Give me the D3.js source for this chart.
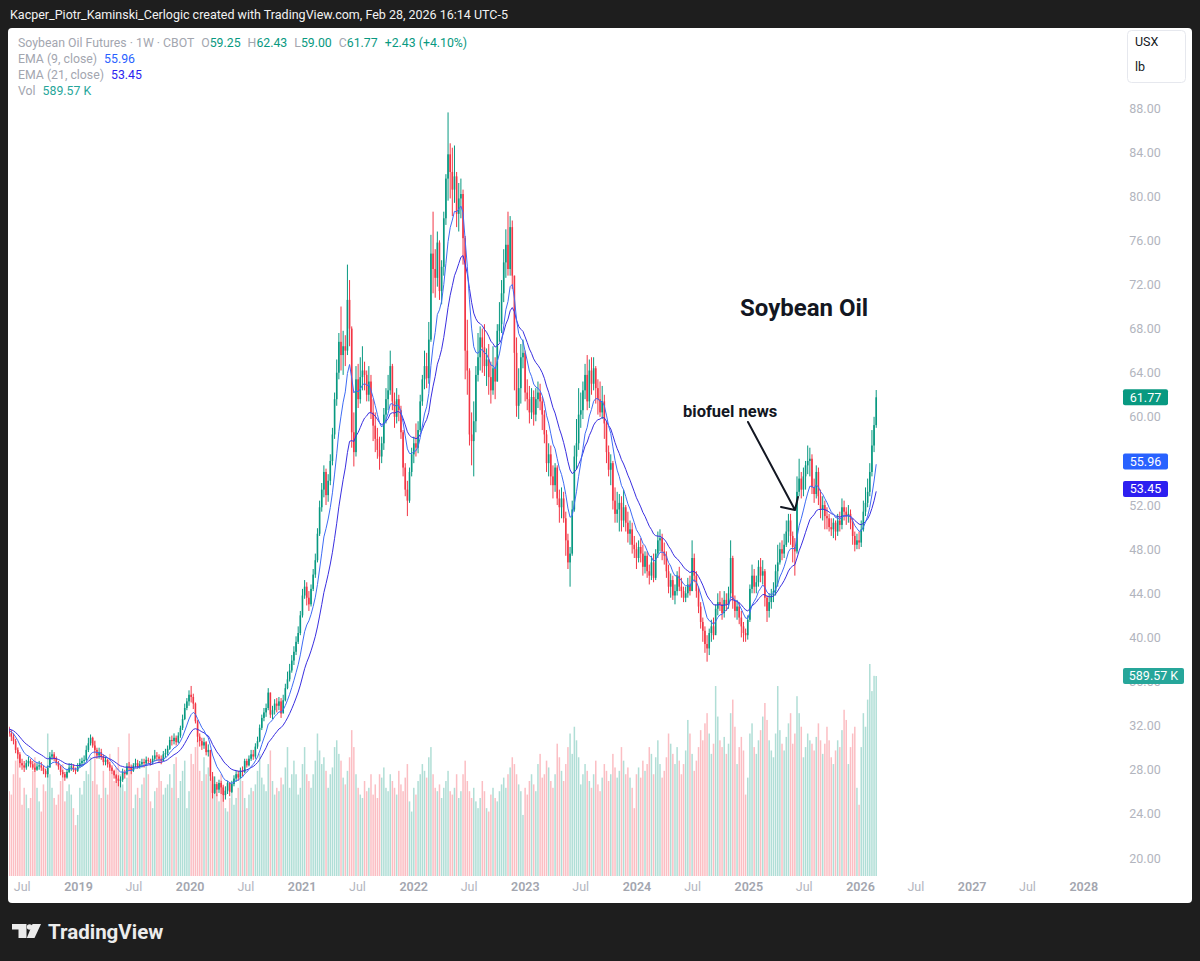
<!DOCTYPE html>
<html><head><meta charset="utf-8">
<script src="https://cdn.jsdelivr.net/npm/d3@7"></script>
<style>
html,body{margin:0;padding:0;background:#1e1e1e;}
svg{display:block;}
text{font-family:Roboto,"Noto Sans",sans-serif;}
</style></head><body>
<svg id="c" width="1200" height="961"></svg>
<script>
// ===== DATA (weekly bars, Monday dates starting 2018-04-02) =====
// each row: [close, high, low, volume in K]; open = previous close
const w2018 = [
[31.9,32.3,31.4,300],[31.6,32.2,31.3,280],[31.8,32.1,31.4,260],[31.4,31.9,31.1,310],[31.2,31.7,30.9,290],
[31.5,31.8,31.0,270],[31.6,32.0,31.2,330],[31.3,31.9,31.0,250],[31.0,31.6,30.6,240],
[30.6,31.3,30.3,300],[29.8,30.8,29.5,340],[29.4,30.0,29.0,380],[28.6,29.6,28.2,290],
[28.4,29.0,28.0,210],[28.2,28.8,27.8,260],[28.6,28.9,28.0,240],[28.8,29.2,28.3,200],[28.5,29.0,28.2,230],
[28.2,28.8,28.0,310],[28.0,28.6,27.8,350],[28.3,28.6,27.9,260],[28.4,28.8,28.0,220],
[28.2,28.7,27.9,190],[27.9,28.4,27.6,270],[27.6,28.1,27.3,250],[28.2,28.4,27.3,420],
[29.2,29.6,28.2,300],[29.4,29.8,28.9,260],[29.0,29.6,28.8,230],[28.6,29.2,28.4,210],[28.3,28.8,28.0,240],
[27.8,28.4,27.5,280],[27.6,28.0,27.3,330],[27.3,27.8,27.0,220],[27.8,28.0,27.2,250],
[28.2,28.6,27.7,270],[28.3,28.6,27.9,240],[28.0,28.5,27.8,200],[27.9,28.2,27.6,150],[28.3,28.6,27.8,180]
];
const w2019 = [
[28.6,29.0,28.2,260],[28.8,29.1,28.3,240],[28.9,29.3,28.5,280],[29.8,30.2,28.8,310],
[30.4,30.9,29.6,300],[30.9,31.2,30.2,350],[30.2,31.0,30.0,280],[29.8,30.6,29.5,400],
[29.3,30.0,29.0,270],[29.6,30.0,29.0,240],[29.2,29.9,28.9,230],[28.7,29.4,28.4,310],
[28.9,29.2,28.4,260],[28.5,29.0,28.2,240],[28.2,28.7,27.9,360],[27.9,28.4,27.6,300],[27.5,28.0,27.2,280],
[27.2,27.6,26.8,320],[27.0,27.5,26.5,380],[27.1,27.4,26.4,300],[27.8,28.1,26.9,270],
[27.6,28.0,27.2,250],[28.3,28.6,27.5,290],[28.2,28.7,27.9,420],[27.9,28.4,27.6,330],
[28.4,28.6,27.8,200],[28.6,29.0,28.2,240],[28.3,28.9,28.1,260],[28.5,28.8,28.1,230],[28.7,29.0,28.2,270],
[28.6,29.0,28.2,290],[28.9,29.2,28.4,340],[28.8,29.1,28.5,300],[28.7,29.0,28.4,220],
[29.0,29.3,28.5,200],[29.3,29.8,28.8,250],[29.2,29.6,28.8,260],[29.0,29.4,28.6,310],[28.8,29.3,28.5,280],
[29.4,29.7,28.8,240],[29.5,29.9,29.1,260],[29.9,30.2,29.3,270],[30.7,31.0,29.8,300],
[30.6,31.1,30.2,260],[30.9,31.3,30.3,330],[30.5,31.1,30.2,350],[31.1,31.4,30.4,230],
[31.8,32.0,30.9,280],[32.6,33.0,31.6,310],[33.6,34.0,32.5,340],[34.2,34.5,33.4,200],[34.8,35.2,33.8,250]
];
const w2020 = [
[34.6,35.6,34.1,360],[34.0,34.9,33.5,330],[32.4,34.1,32.2,380],[31.0,32.5,30.5,400],
[30.6,31.3,30.1,310],[30.2,30.9,29.8,280],[30.5,30.9,29.9,350],[29.6,30.6,29.3,300],
[29.8,30.3,29.2,320],[27.4,29.8,27.0,290],[25.9,27.8,25.4,270],[26.7,27.4,25.8,260],[26.2,26.9,25.6,240],
[26.8,27.1,25.9,220],[26.4,27.0,25.8,300],[25.7,26.6,25.1,270],[26.1,26.5,25.3,200],
[26.8,27.0,25.8,190],[26.0,26.9,25.6,230],[26.7,27.0,25.9,250],[27.2,27.5,26.5,210],
[27.6,27.9,26.9,230],[27.3,27.9,27.0,260],[27.9,28.2,27.2,300],[27.8,28.3,27.4,280],[28.8,29.0,27.7,230],
[28.4,29.0,28.2,200],[29.0,29.3,28.3,240],[29.4,29.8,28.8,260],[29.2,29.8,28.9,250],
[30.1,30.4,29.0,270],[30.6,31.0,29.9,310],[31.8,32.1,30.5,360],[32.7,33.0,31.6,290],[33.2,33.6,32.4,270],
[33.6,34.0,32.8,250],[35.0,35.4,33.4,330],[33.0,35.0,32.7,370],[33.4,33.8,32.6,280],
[34.0,34.4,33.0,240],[33.8,34.5,33.2,260],[34.2,34.6,33.4,250],[33.1,34.5,32.7,290],
[34.3,34.8,33.2,270],[35.4,35.8,34.2,320],[36.2,36.9,35.3,380],[37.0,37.6,36.0,260],[37.9,38.4,36.8,300],
[38.7,39.2,37.5,340],[39.6,40.1,38.4,300],[40.4,41.0,39.4,240],[42.0,42.4,40.2,260]
];
const w2021 = [
[43.8,44.4,41.8,330],[44.6,45.2,43.5,380],[43.6,45.0,42.9,300],[43.0,44.2,42.4,280],
[44.4,44.8,42.8,260],[45.7,46.2,44.2,300],[47.0,47.6,45.4,340],[49.4,49.9,46.8,420],
[51.8,52.4,49.2,370],[53.4,54.0,51.4,330],[55.0,55.6,52.7,350],[52.9,55.3,52.0,310],[54.2,54.8,52.3,260],
[56.0,56.6,53.8,300],[58.4,59.0,55.6,320],[61.6,62.2,58.0,380],[64.0,65.2,61.0,400],
[66.8,67.6,63.4,360],[65.6,70.0,64.2,340],[66.4,67.8,63.8,290],[66.0,67.4,64.6,270],[70.6,73.8,65.6,310],
[68.0,72.4,66.4,350],[58.6,68.2,57.2,430],[56.8,60.4,55.5,380],[63.4,64.6,56.4,300],
[61.6,64.8,60.8,260],[63.6,65.4,61.2,240],[64.2,66.4,62.4,230],[63.8,65.0,62.4,280],
[62.0,64.2,61.4,250],[63.2,64.6,61.4,260],[60.4,63.8,59.8,300],[59.2,61.6,57.8,240],[58.0,60.4,56.8,270],
[57.0,59.0,56.2,230],[56.4,58.2,55.2,300],[57.6,58.2,55.8,290],[60.2,60.8,57.0,320],
[61.6,62.6,59.4,260],[62.4,63.8,60.6,250],[64.6,66.0,62.0,300],[61.4,64.8,60.6,280],
[60.0,62.2,59.0,260],[61.6,62.6,59.4,240],[60.6,62.0,59.6,310],[58.6,61.0,58.0,270],[55.4,58.8,54.6,250],
[53.4,55.8,52.8,290],[52.4,54.2,51.0,330],[55.0,55.4,52.2,220],[56.6,57.2,54.6,190]
];
const w2022 = [
[57.6,58.2,55.8,260],[57.2,59.4,56.4,240],[58.8,59.6,56.7,280],[61.4,62.0,58.6,300],[63.4,63.8,61.0,330],
[64.6,66.0,62.5,310],[63.5,65.8,62.6,290],[67.0,68.6,63.0,350],[74.8,76.5,66.8,380],
[73.4,78.6,71.2,300],[72.6,75.2,70.8,260],[75.8,76.8,71.8,250],[71.4,76.0,70.6,270],
[73.6,74.2,70.2,230],[78.0,78.6,72.8,260],[81.6,82.0,77.4,280],[83.8,87.6,79.6,310],
[82.2,84.8,79.8,250],[80.6,84.4,78.2,240],[81.8,84.6,79.4,260],[78.4,82.2,77.2,300],[79.8,81.2,76.8,230],
[80.2,81.6,78.0,250],[76.2,80.6,73.8,300],[66.0,76.4,63.4,340],[64.2,68.8,62.0,280],
[58.4,64.4,57.4,250],[57.8,60.4,55.6,230],[59.6,61.4,54.6,260],[63.8,64.6,58.6,220],
[65.4,67.6,63.2,200],[67.2,68.2,64.2,230],[66.3,68.0,64.0,280],[64.6,68.4,63.7,250],[65.2,66.2,62.8,200],
[63.6,66.6,62.0,190],[62.4,65.0,61.2,240],[64.4,66.4,62.0,260],[63.2,65.4,61.6,230],
[67.8,68.4,63.2,220],[68.4,70.4,66.8,250],[71.2,72.4,67.6,270],[74.0,75.2,70.4,290],[75.6,77.0,72.6,260],
[73.4,78.6,72.8,300],[77.2,78.2,72.8,320],[72.8,77.8,71.6,350],[65.8,72.8,62.4,330],
[61.0,67.2,60.0,300],[62.6,64.4,59.8,270],[65.4,66.6,61.2,250],[65.8,67.0,64.4,180]
];
const w2023 = [
[62.2,66.0,61.4,260],[61.6,63.4,60.6,240],[60.4,62.8,59.4,280],[61.8,62.6,59.8,300],[60.2,62.4,59.2,270],
[61.6,62.6,59.6,250],[62.2,63.2,60.8,330],[61.4,63.0,60.6,360],[60.2,61.8,58.8,290],
[58.4,60.6,57.6,300],[55.8,58.8,55.0,340],[56.6,57.6,54.6,320],[54.6,57.4,53.8,280],
[53.8,55.6,52.6,260],[55.4,55.8,53.2,300],[52.6,55.6,52.0,390],[51.8,53.4,50.4,350],
[52.6,53.6,50.8,310],[50.8,53.2,50.4,280],[48.8,51.4,47.4,330],[46.8,49.4,46.2,380],[47.6,48.2,44.6,420],
[51.6,52.4,47.4,360],[56.4,57.4,51.4,440],[57.6,59.8,55.2,400],[60.2,62.6,57.0,350],
[60.6,62.2,59.0,270],[62.4,63.2,59.8,300],[63.8,64.8,61.6,330],[61.4,65.6,60.6,310],[64.2,65.2,60.8,280],
[63.0,65.4,62.0,260],[64.4,65.4,62.4,300],[62.6,64.6,61.2,340],[61.6,63.4,60.2,270],
[60.4,63.2,60.0,250],[61.4,62.8,59.8,290],[59.4,62.0,58.0,330],[56.8,59.6,55.8,310],
[55.2,57.4,54.6,280],[55.8,56.6,53.8,300],[52.4,56.0,51.6,360],[51.2,53.6,50.4,320],[51.6,53.2,50.4,290],
[52.2,53.0,49.6,310],[50.6,52.8,49.6,380],[51.8,53.4,50.0,340],[50.4,52.0,49.6,300],
[49.4,51.4,48.6,320],[49.8,50.6,48.4,290],[48.4,50.4,47.6,260],[48.0,49.2,47.2,200]
];
const w2024 = [
[47.2,48.6,46.2,300],[48.2,48.8,46.8,320],[47.6,49.0,46.8,290],[46.4,48.4,45.6,340],[47.4,47.8,45.8,310],
[46.0,47.8,45.4,330],[45.6,46.6,44.8,380],[46.8,47.4,45.2,360],[45.4,47.6,45.0,300],
[47.6,48.0,45.2,350],[48.8,49.6,47.2,400],[49.0,49.8,47.8,330],[47.8,49.4,47.0,290],
[47.4,48.6,46.6,310],[46.0,47.8,45.4,350],[44.6,46.6,44.0,420],[45.2,45.8,43.6,390],[43.8,45.6,43.4,360],
[44.2,44.8,43.0,330],[45.6,46.0,43.8,380],[44.6,46.4,44.2,340],[44.2,45.4,43.6,300],
[43.6,44.6,43.2,330],[44.0,44.6,43.2,370],[44.8,45.4,43.6,460],[44.2,45.6,43.8,420],
[47.2,48.8,44.2,360],[45.6,47.6,45.0,310],[44.2,46.0,43.6,340],[42.8,44.6,42.2,380],[41.4,43.2,40.8,430],
[40.6,41.8,39.6,400],[39.4,41.0,38.6,450],[39.0,40.2,37.8,480],[40.4,40.8,38.4,420],
[41.0,41.6,39.6,360],[40.2,41.8,39.8,390],[42.6,43.0,40.4,560],[43.2,44.0,42.0,470],[43.0,44.2,42.4,400],
[42.2,43.6,41.6,380],[43.4,44.2,41.8,410],[43.0,44.0,42.4,360],[44.0,44.6,42.6,390],
[47.2,48.8,43.6,480],[43.4,47.4,42.6,520],[42.4,43.8,41.8,440],[42.8,43.4,41.6,330],
[41.8,43.2,41.2,380],[41.0,42.4,40.0,410],[40.4,41.4,39.6,370],[40.2,40.8,39.6,240],[41.6,42.0,39.8,290]
];
const w2025 = [
[44.4,44.8,41.4,420],[45.6,46.6,44.0,450],[44.6,46.2,44.0,380],[45.0,45.6,44.0,360],
[46.4,47.0,44.6,400],[45.6,47.2,45.0,430],[46.0,47.0,44.8,470],[43.6,46.2,42.8,510],
[42.4,43.8,41.4,460],[43.2,44.0,41.8,400],[43.8,44.4,42.6,370],[44.2,45.0,43.2,350],[46.0,46.6,43.8,420],
[46.8,48.4,44.6,560],[48.0,48.6,46.6,430],[47.6,48.8,47.0,390],[48.4,49.4,47.2,370],
[49.6,50.6,48.2,410],[50.6,51.2,48.6,450],[49.2,51.2,48.4,480],[48.2,49.6,46.8,390],
[47.8,49.0,45.6,420],[53.2,54.6,47.6,530],[54.4,56.2,52.8,480],[53.4,55.0,52.6,440],[54.6,55.4,52.8,350],
[55.6,56.0,53.4,380],[56.0,57.4,54.8,420],[56.2,57.2,54.6,400],[53.6,56.6,53.0,390],
[53.0,54.4,52.2,370],[55.0,55.6,52.6,410],[52.8,55.4,52.0,450],[51.6,53.4,50.8,400],
[52.0,52.8,50.6,360],[51.0,52.4,49.8,390],[50.8,51.8,49.8,440],[50.0,51.2,49.6,400],[49.8,50.8,49.2,350],
[50.4,50.8,49.0,330],[49.6,50.6,48.8,370],[50.6,51.2,49.2,400],[50.2,51.4,49.6,380],
[51.8,52.6,49.8,430],[51.4,52.4,50.6,490],[51.0,51.8,50.2,460],[51.2,52.0,50.4,330],
[50.4,51.6,49.8,380],[49.2,50.8,48.4,420],[48.4,49.6,47.8,440],[48.8,49.4,48.0,260],[48.6,49.6,48.0,210]
];
const w2026 = [
[49.8,50.6,48.2,380],[51.4,52.4,49.6,480],[52.2,53.6,51.0,440],[53.2,54.4,51.8,520],
[55.0,55.8,52.8,625],[57.4,58.8,54.6,545],[59.25,60.0,56.8,590],[61.77,62.43,59.00,589.57]
];
const firstWeek = "2018-04-02";
const priceTicks = [20,24,28,32,36,40,44,48,52,56,60,64,68,72,76,80,84,88];
const timeLabels = ["Jul","2019","Jul","2020","Jul","2021","Jul","2022","Jul","2023","Jul","2024","Jul","2025","Jul","2026","Jul","2027","Jul","2028"];
const timeLabelDates = ["2018-07-01","2019-01-01","2019-07-01","2020-01-01","2020-07-01","2021-01-01","2021-07-01","2022-01-01","2022-07-01","2023-01-01","2023-07-01","2024-01-01","2024-07-01","2025-01-01","2025-07-01","2026-01-01","2026-07-01","2027-01-01","2027-07-01","2028-01-01"];
const lastLabels = [["61.77","#089981"],["55.96","#2962ff"],["53.45","#2d1ff0"]];
const lastValues = [61.77, 55.96, 53.45];
const volLast = 589.57;

// ===== BUILD =====
const rows = [].concat(w2018,w2019,w2020,w2021,w2022,w2023,w2024,w2025,w2026);
const t0 = d3.utcParse("%Y-%m-%d")(firstWeek);
const bars = rows.map((r,i)=>({
  date: d3.utcDay.offset(t0, 7*i),
  close:r[0], high:r[1], low:r[2], vol:r[3],
  open: i>0 ? rows[i-1][0] : r[0]
}));
function ema(n){ const k=2/(n+1); let e=null; return bars.map(b=>{ e = e===null? b.close : b.close*k + e*(1-k); return e; }); }
const ema9 = ema(9), ema21 = ema(21);

const svg = d3.select("#c");
const W=1200,H=961;
const UP="#089981", DN="#f23645";

// frame
svg.append("rect").attr("width",W).attr("height",H).attr("fill","#1e1e1e");
svg.append("rect").attr("x",8).attr("y",28).attr("width",1184).attr("height",875).attr("rx",4).attr("fill","#ffffff");

// top caption
svg.append("text").attr("x",10).attr("y",19).attr("fill","#f2f2f2").attr("font-size",12.5)
  .text("Kacper_Piotr_Kaminski_Cerlogic created with TradingView.com, Feb 28, 2026 16:14 UTC-5");

// scales
const x = d3.scaleUtc().domain([Date.UTC(2019,0,1), Date.UTC(2026,0,1)]).range([78,860]);
const y = d3.scaleLinear().domain([20,88]).range([858,108]);
const yv = d3.scaleLinear().domain([0, volLast]).range([876,676]);

svg.append("defs").append("clipPath").attr("id","pane").append("rect")
  .attr("x",9).attr("y",29).attr("width",1107).attr("height",848);
const pane = svg.append("g").attr("clip-path","url(#pane)");

// volume
pane.append("g").selectAll("rect").data(bars).join("rect")
  .attr("x",d=>x(d.date)-0.75).attr("width",1.5)
  .attr("y",d=>yv(d.vol)).attr("height",d=>yv(0)-yv(d.vol))
  .attr("fill",d=>d.close>=d.open?UP:DN).attr("opacity",0.32);

// candles
const cg = pane.append("g");
cg.selectAll("line").data(bars).join("line")
  .attr("x1",d=>x(d.date)).attr("x2",d=>x(d.date))
  .attr("y1",d=>y(d.high)).attr("y2",d=>y(d.low))
  .attr("stroke",d=>d.close>=d.open?UP:DN).attr("stroke-width",1);
cg.selectAll("rect").data(bars).join("rect")
  .attr("x",d=>x(d.date)-0.8).attr("width",1.6)
  .attr("y",d=>y(Math.max(d.open,d.close)))
  .attr("height",d=>Math.max(1, Math.abs(y(d.open)-y(d.close))))
  .attr("fill",d=>d.close>=d.open?UP:DN);

// EMAs
const line = d3.line().x((d,i)=>x(bars[i].date)).y(d=>y(d));
pane.append("path").datum(ema21).attr("d",line).attr("fill","none").attr("stroke","#3a2fe0").attr("stroke-width",1);
pane.append("path").datum(ema9).attr("d",line).attr("fill","none").attr("stroke","#3f6cf4").attr("stroke-width",1);

// price axis
const ya = svg.append("g").attr("transform","translate(1130,0)")
  .call(d3.axisRight(y).tickValues(priceTicks).tickFormat(d3.format(".2f")).tickSize(0).tickPadding(0));
ya.select(".domain").remove();
ya.selectAll("text").attr("x",15).attr("text-anchor","middle").attr("fill","#b2b5be").attr("font-size",12.5).attr("font-family","Roboto");

// time axis
const tDates = timeLabelDates.map(d3.utcParse("%Y-%m-%d"));
const xa = svg.append("g").attr("transform","translate(0,882)")
  .call(d3.axisBottom(x).tickValues(tDates).tickFormat((d,i)=>timeLabels[i]).tickSize(0).tickPadding(0));
xa.select(".domain").remove();
xa.selectAll("text").attr("dy","0.71em").attr("font-size",12.5).attr("font-family","Roboto")
  .attr("font-weight",(d,i)=>timeLabels[i]==="Jul"?400:600)
  .attr("fill",(d,i)=>timeLabels[i]==="Jul"?"#b2b5be":"#a3a6af");

// last value labels
lastLabels.forEach((l,i)=>{
  const yy = y(lastValues[i]);
  svg.append("rect").attr("x",1123).attr("y",yy-8).attr("width",45).attr("height",16).attr("rx",2).attr("fill",l[1]);
  svg.append("text").attr("x",1145.5).attr("y",yy).attr("dy","0.35em").attr("text-anchor","middle")
    .attr("fill","#fff").attr("font-size",12.5).text(l[0]);
});
svg.append("rect").attr("x",1123).attr("y",yv(volLast)-8).attr("width",61).attr("height",16).attr("rx",2).attr("fill","#26a69a");
svg.append("text").attr("x",1153.5).attr("y",yv(volLast)).attr("dy","0.35em").attr("text-anchor","middle")
  .attr("fill","#fff").attr("font-size",12.5).text("589.57 K");

// unit box
svg.append("rect").attr("x",1127.5).attr("y",30.5).attr("width",58).attr("height",52).attr("rx",4)
  .attr("fill","#fff").attr("stroke","#e6e8ee");
svg.append("text").attr("x",1135).attr("y",42).attr("dy","0.35em").attr("font-size",12.5).attr("fill","#131722").text("USX");
svg.append("text").attr("x",1135).attr("y",67).attr("dy","0.35em").attr("font-size",12.5).attr("fill","#131722").text("lb");

// legend
const leg = svg.append("g").attr("font-size",12.3);
function legendLine(yy, parts){
  const t = leg.append("text").attr("x",18).attr("y",yy).attr("dy","0.35em");
  parts.forEach(p=>t.append("tspan").attr("fill",p[1]).attr("dx",p[2]||0).text(p[0]));
}
const G="#a3a6af";
legendLine(43,[["Soybean Oil Futures · 1W · CBOT",G],["O",G,7],["59.25",UP],["H",G,7],["62.43",UP],["L",G,7],["59.00",UP],["C",G,7],["61.77",UP],["+2.43 (+4.10%)",UP,7]]);
legendLine(59,[["EMA (9, close)",G],["55.96","#2962ff",7]]);
legendLine(75,[["EMA (21, close)",G],["53.45","#2d1ff0",7]]);
legendLine(91,[["Vol",G],["589.57 K","#26a69a",7]]);

// annotations
svg.append("text").attr("x",740).attr("y",308).attr("dy","0.35em").attr("font-size",24).attr("font-weight",700)
  .attr("fill","#131722").text("Soybean Oil");
svg.append("text").attr("x",683).attr("y",411).attr("dy","0.35em").attr("font-size",16.5).attr("font-weight",700)
  .attr("fill","#131722").text("biofuel news");
svg.append("path").attr("d","M748,422 L795,510 M781,507 L795,510 L798,497")
  .attr("fill","none").attr("stroke","#131722").attr("stroke-width",2).attr("stroke-linecap","round").attr("stroke-linejoin","round");

// TradingView logo
const lg = svg.append("g").attr("fill","#ececec");
lg.append("path").attr("d","M12,924 H26.5 V938 H18.5 V929.5 H12 Z");
lg.append("circle").attr("cx",29.6).attr("cy",927).attr("r",2.8);
lg.append("path").attr("d","M32.5,924 H41 L34.5,938 H26.8 Z");
lg.append("text").attr("x",48).attr("y",932).attr("dy","0.35em").attr("font-size",20.5).attr("font-weight",700)
  .attr("fill","#ececec").text("TradingView");
</script>
</body></html>
